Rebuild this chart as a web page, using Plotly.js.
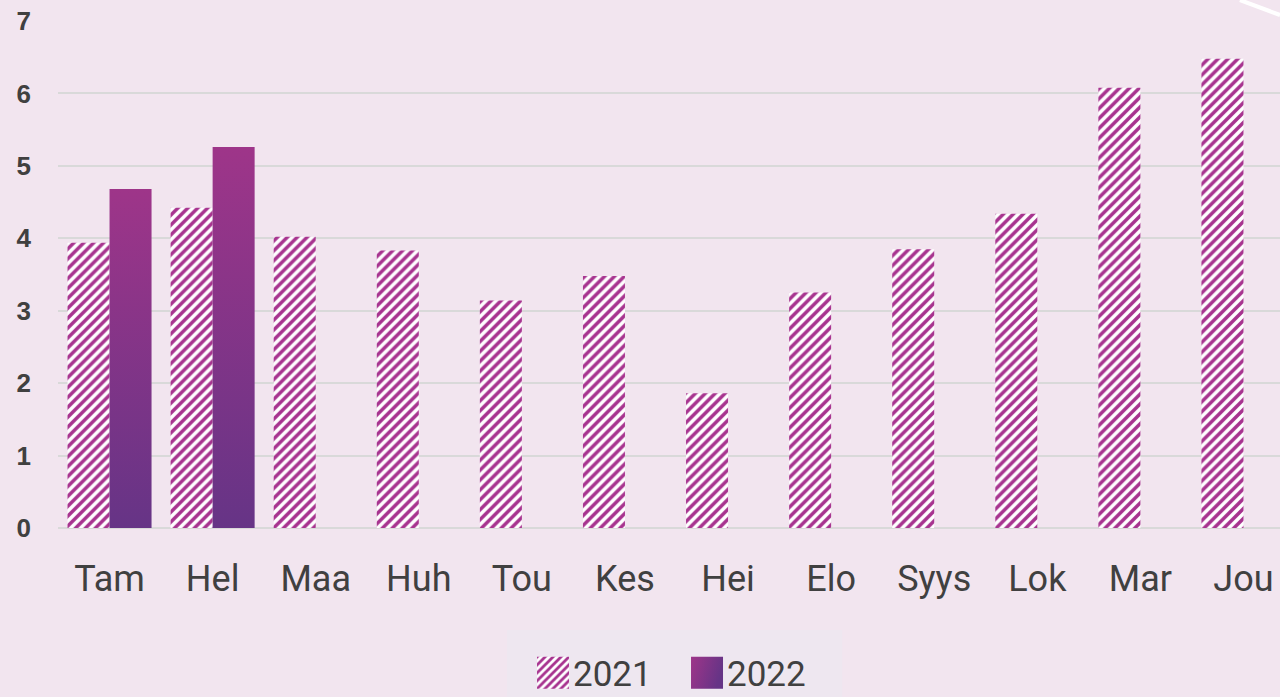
<!DOCTYPE html>
<html>
<head>
<meta charset="utf-8">
<script src="https://cdn.plot.ly/plotly-3.0.1.min.js"></script>
<style>
html,body{margin:0;padding:0;overflow:hidden;background:#F2E5EF;}
#chart{width:1295px;height:697px;}
</style>
</head>
<body>
<div id="chart"></div>
<script>
const months = ["Tam","Hel","Maa","Huh","Tou","Kes","Hei","Elo","Syys","Lok","Mar","Jou"];
const values2021 = [3.94,4.42,4.02,3.83,3.14,3.48,1.86,3.25,3.85,4.34,6.08,6.48];
const months2022 = ["Tam","Hel"];
const values2022 = [4.68,5.26];
const yTicks = [0,1,2,3,4,5,6,7];

const traces = [
  {
    type:"bar", name:"2021", x:months, y:values2021,
    marker:{color:"#ffffff", line:{width:0},
      pattern:{shape:"/", fgcolor:"#A7338F", bgcolor:"#ffffff", size:7, solidity:0.5}},
    hoverinfo:"skip"
  },
  {
    type:"bar", name:"2022", x:months2022, y:values2022,
    marker:{color:"#82358A", line:{width:0}},
    hoverinfo:"skip"
  }
];

const layout = {
  width:1295, height:697,
  paper_bgcolor:"#F2E5EF", plot_bgcolor:"#F2E5EF",
  margin:{l:58, r:0, t:21, b:169, autoexpand:false},
  barmode:"group", bargap:0.185, bargroupgap:0,
  showlegend:true,
  font:{family:"Liberation Sans, Arial, sans-serif", color:"#404040"},
  xaxis:{
    categoryorder:"array", categoryarray:months,
    tickfont:{size:36, color:"#404040", family:"Roboto, Liberation Sans, sans-serif"},
    showgrid:false, zeroline:false, showline:false, ticks:"",
    ticklabelstandoff:26, automargin:false
  },
  yaxis:{
    range:[0,7], tickvals:yTicks, ticktext:yTicks.map(String),
    tickfont:{size:26, color:"#404040", family:"Liberation Sans, Arial, sans-serif", weight:"bold"},
    showgrid:true, gridcolor:"#D9D9D9", gridwidth:2,
    zeroline:true, zerolinecolor:"#D9D9D9", zerolinewidth:2,
    showline:false, ticks:"", ticklabelstandoff:26, automargin:false
  },
  legend:{
    orientation:"h", x:0.5085, xanchor:"center", y:-0.286, yanchor:"middle",
    bgcolor:"rgba(0,0,0,0)",
    font:{size:35, color:"#404040", family:"Roboto, Liberation Sans, sans-serif"},
    traceorder:"normal", entrywidth:109
  },
  shapes:[
    {type:"rect", xref:"paper", yref:"paper", x0:0.363, x1:0.634, y0:-0.36, y1:-0.201,
      fillcolor:"#EEE7F0", line:{width:0}, layer:"below"},
    {type:"line", xref:"paper", yref:"paper", x0:0.9555, y0:1.0414, x1:0.9879, y1:1.0118,
      line:{color:"#ffffff", width:4}}
  ]
};

Plotly.newPlot("chart", traces, layout, {displayModeBar:false, staticPlot:true}).then(function(gd){
  const svg = gd.querySelector("svg.main-svg");
  const ns = "http://www.w3.org/2000/svg";
  let defs = svg.querySelector("defs");
  if(!defs){defs = document.createElementNS(ns,"defs"); svg.insertBefore(defs, svg.firstChild);}
  function grad(id, x2, y2){
    const g = document.createElementNS(ns,"linearGradient");
    g.setAttribute("id",id); g.setAttribute("x1","0"); g.setAttribute("y1","0");
    g.setAttribute("x2",x2); g.setAttribute("y2",y2);
    const s1 = document.createElementNS(ns,"stop"); s1.setAttribute("offset","0"); s1.setAttribute("stop-color","#9E3589");
    const s2 = document.createElementNS(ns,"stop"); s2.setAttribute("offset","1"); s2.setAttribute("stop-color","#663486");
    g.appendChild(s1); g.appendChild(s2); defs.appendChild(g);
  }
  grad("g22v","0","1");
  grad("g22h","1","0.3");
  const barTraces = gd.querySelectorAll(".barlayer .trace");
  if(barTraces[1]) barTraces[1].querySelectorAll("path").forEach(p=>{p.style.fill="url(#g22v)";});
  const legItems = gd.querySelectorAll(".legend .traces");
  legItems.forEach((it,i)=>{
    it.querySelectorAll(".legendpoints path").forEach(p=>{
      p.setAttribute("d","M16,16H-16V-16H16Z");
      if(i===1) p.style.fill="url(#g22h)";
    });
  });
  gd.querySelectorAll(".legend [clip-path]").forEach(el=>el.removeAttribute("clip-path"));
});
</script>
</body>
</html>
